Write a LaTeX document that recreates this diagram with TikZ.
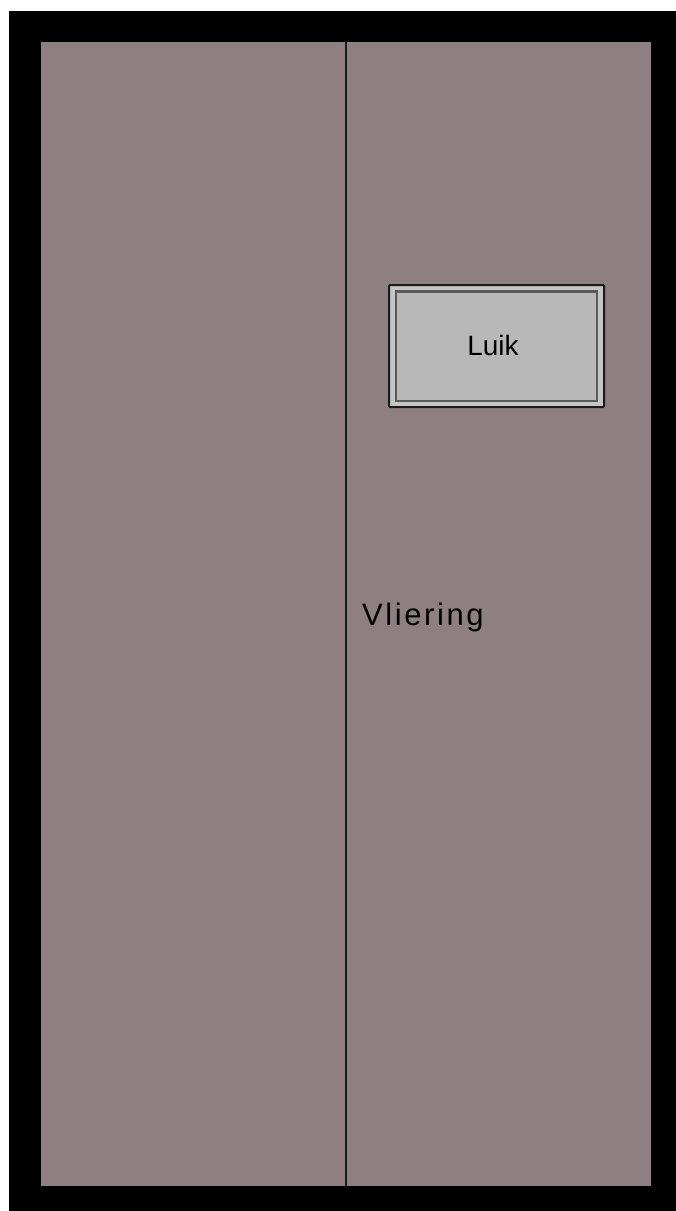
\documentclass[tikz,border=0pt]{standalone}
\usepackage{fontspec}
\setmainfont{Liberation Sans}
\newfontfamily\spacedfont[LetterSpace=8.3]{Liberation Sans}
\definecolor{roomfill}{HTML}{8E8080}
\definecolor{hatchband}{HTML}{C6C6C6}
\definecolor{hatchfill}{HTML}{B8B8B8}
\definecolor{hatchline}{HTML}{5A5A5A}
\definecolor{edgeline}{HTML}{1A1A1A}
\tikzset{
  x=1pt,y=-1pt,
  wall/.style={fill=black,draw=none},
  room/.style={fill=roomfill,draw=none},
  divider/.style={draw=edgeline,line width=2.2pt},
  hatchouter/.style={fill=hatchband,draw=edgeline,line width=2pt,rounded corners=1pt},
  hatchinner/.style={fill=hatchfill,draw=hatchline,line width=2.2pt},
  lbl/.style={inner sep=0pt,text=black}
}
\begin{document}
\begin{tikzpicture}
\useasboundingbox (0,0) rectangle (676,1211);
\fill[white] (0,0) rectangle (676,1211);
\path[wall] (9,11) rectangle (676,1211);
\path[room] (40.5,42) rectangle (651,1186);
\coordinate (dividertop) at (345.7,42);
\coordinate (dividerbottom) at (345.7,1186);
\draw[divider] (dividertop) -- (dividerbottom);
\draw[hatchouter] (389,285) rectangle (604,407);
\draw[hatchinner] (396,291.5) rectangle (597,401);
\node[lbl,font=\fontsize{28}{32}\selectfont,anchor=base] (luik) at (493,355) {Luik};
\node[lbl,font=\fontsize{31}{36}\spacedfont,anchor=base west] (vliering) at (362,625.5) {Vliering};
\end{tikzpicture}
\end{document}
